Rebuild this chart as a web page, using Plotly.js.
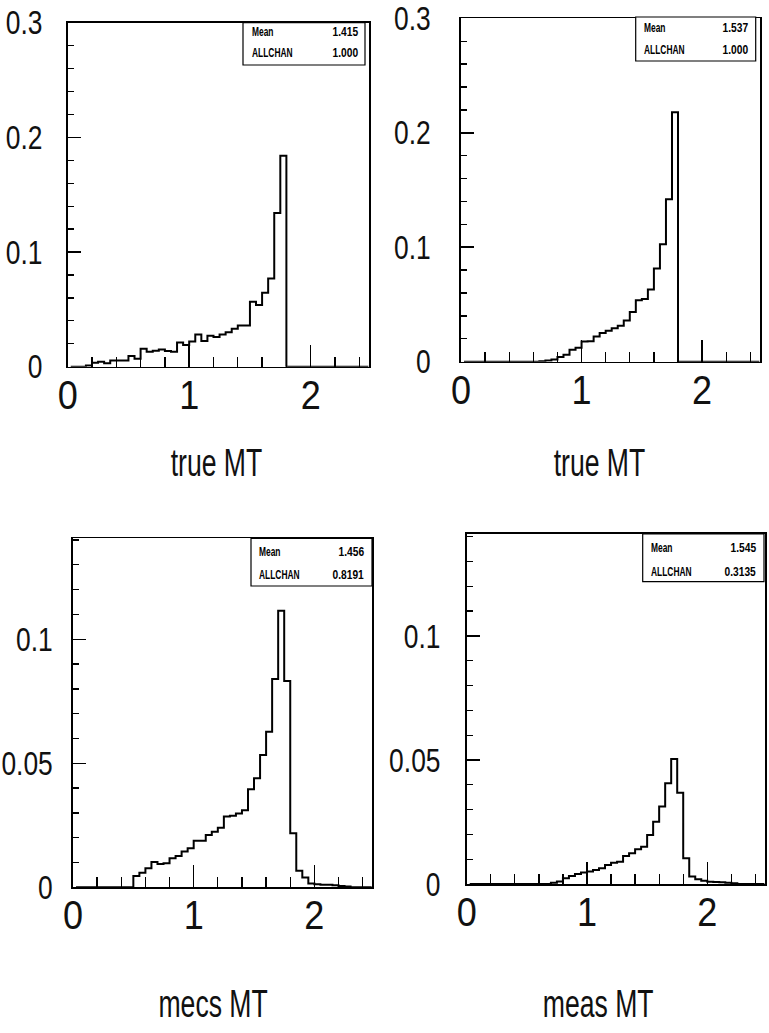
<!DOCTYPE html>
<html><head><meta charset="utf-8">
<script src="https://cdn.plot.ly/plotly-3.0.1.min.js"></script>
<style>html,body{margin:0;padding:0;background:#fff}#chart{width:769px;height:1033px}</style>
</head><body><div id="chart"></div>
<script>
// bin centers (bin width 0.05, 0 .. 2.5)
const binCenters = [0.025,0.075,0.125,0.175,0.225,0.275,0.325,0.375,0.425,0.475,
  0.525,0.575,0.625,0.675,0.725,0.775,0.825,0.875,0.925,0.975,
  1.025,1.075,1.125,1.175,1.225,1.275,1.325,1.375,1.425,1.475,
  1.525,1.575,1.625,1.675,1.725,1.775,1.825,1.875,1.925,1.975,
  2.025,2.075,2.125,2.175,2.225,2.275,2.325,2.375,2.425,2.475];

// top-left: true MT
const trueMT_left = [0,0,0,0.001,0.0035,0.0044,0.003,0.0055,0.0055,0.0055,
  0.0093,0.007,0.0157,0.013,0.014,0.015,0.0137,0.013,0.021,0.019,
  0.022,0.028,0.0224,0.027,0.026,0.028,0.030,0.033,0.036,0.036,
  0.0567,0.0538,0.0645,0.077,0.134,0.184,0,0,0,0,
  0,0,0,0,0,0,0,0,0,0];
// top-right: true MT
const trueMT_right = [0,0,0,0,0,0,0,0,0,0,
  0,0,0,0.0005,0.001,0.002,0.004,0.006,0.0105,0.0122,
  0.0176,0.0178,0.022,0.025,0.027,0.0293,0.0314,0.036,0.0434,0.0536,
  0.0548,0.063,0.0815,0.1026,0.142,0.218,0,0,0,0,
  0,0,0,0,0,0,0,0,0,0];
// bottom-left: meas MT
const measMT_left = [0,0,0,0,0,0,0,0,0,0,
  0.0046,0.0059,0.0077,0.0102,0.0094,0.0097,0.0117,0.0126,0.0144,0.0157,
  0.0188,0.0188,0.0211,0.0224,0.024,0.0285,0.0288,0.0298,0.0311,0.0395,
  0.044,0.0533,0.0627,0.084,0.1115,0.0832,0.0218,0.0067,0.004,0.0015,
  0.0012,0.001,0.001,0.0008,0.0005,0.0003,0,0,0,0];
// bottom-right: meas MT
const measMT_right = [0,0,0,0,0,0,0,0,0,0,
  0,0,0,0,0.0005,0.001,0.0023,0.0032,0.004,0.0046,
  0.005,0.0056,0.0063,0.0077,0.0086,0.009,0.0113,0.0124,0.014,0.015,
  0.0198,0.0251,0.0312,0.0406,0.0504,0.0368,0.0104,0.003,0.0019,0.0013,
  0.0009,0.0008,0.0007,0.0005,0.0003,0,0,0,0,0];

const xTickVals = [0, 1, 2];
const xTickText = ['0', '1', '2'];
const yTickValsTop = [0, 0.1, 0.2, 0.3];
const yTickTextTop = ['0', '0.1', '0.2', '0.3'];
const yTickValsBottom = [0, 0.05, 0.1];
const yTickTextBottom = ['0', '0.05', '0.1'];

const axisTitles = ['true MT','true MT','mecs MT','meas MT'];
const statNames = ['Mean','ALLCHAN'];
const statMean = ['1.415','1.537','1.456','1.545'];
const statAllchan = ['1.000','1.000','0.8191','0.3135'];

const W = 769, H = 1033;
const FONT = 'Liberation Sans, Arial, sans-serif';
const series = [trueMT_left, trueMT_right, measMT_left, measMT_right];

// panel geometry in pixels (frame left/right/top/bottom)
const panels = [
  {L:67.7, R:369, T:22.7, B:366.7, ymax:0.3, tv:yTickValsTop, tt:yTickTextTop, ymin:0.02, ysd:17,
   box:[243,365,22.7,65], rows:[32,53], tx:[250,359.5], title:[216,463]},
  {L:461, R:760, T:18.3, B:361.7, ymax:0.3, tv:yTickValsTop, tt:yTickTextTop, ymin:0.02, ysd:22,
   box:[635.7,755.7,17,61], rows:[28,49.5], tx:[641.7,750], title:[599,463]},
  {L:73, R:372.3, T:538.3, B:887.3, ymax:0.1407, tv:yTickValsBottom, tt:yTickTextBottom, ymin:0.01, ysd:12,
   box:[251,372,538.3,586], rows:[551.5,575], tx:[257,366], title:[213,1004]},
  {L:466.7, R:765, T:534, B:884, ymax:0.1411, tv:yTickValsBottom, tt:yTickTextBottom, ymin:0.01, ysd:18,
   box:[642.7,764,534,581.7], rows:[548.3,571.7], tx:[649.3,758.3], title:[598,1004]}
];

const px = x => x / W;
const py = y => (H - y) / H;

const data = [];
const layout = {
  width: W, height: H,
  margin: {l:0, r:0, t:0, b:0},
  paper_bgcolor: '#fff', plot_bgcolor: '#fff',
  showlegend: false,
  shapes: [], annotations: []
};

panels.forEach((p, i) => {
  const n = i === 0 ? '' : String(i + 1);
  data.push({
    type: 'scatter', mode: 'lines',
    x: binCenters, y: series[i],
    xaxis: 'x' + n, yaxis: 'y' + n,
    line: {shape: 'hvh', color: '#000', width: 2},
    hoverinfo: 'skip'
  });
  layout['xaxis' + n] = {
    domain: [px(p.L), px(p.R)], anchor: 'y' + n,
    range: [0, 2.48], tickmode: 'array', tickvals: xTickVals, ticktext: xTickText,
    showline: true, mirror: true, linecolor: '#000', linewidth: 1.6,
    ticks: 'inside', ticklen: 22, tickwidth: 1.5, tickcolor: '#000',
    minor: {dtick: 0.2, tick0: 0, ticks: 'inside', ticklen: 10, tickwidth: 1.3, tickcolor: '#000', showgrid: false},
    showgrid: false, zeroline: false,
    tickfont: {family: FONT, size: 41, color: '#111'},
    ticklabelstandoff: -9, ticklabeloverflow: 'allow'
  };
  layout['yaxis' + n] = {
    domain: [py(p.B), py(p.T)], anchor: 'x' + n,
    range: [0, p.ymax], tickmode: 'array', tickvals: p.tv, ticktext: p.tt,
    showline: true, mirror: true, linecolor: '#000', linewidth: 1.6,
    ticks: 'inside', ticklen: 13, tickwidth: 1.5, tickcolor: '#000',
    minor: {dtick: p.ymin, tick0: 0, ticks: 'inside', ticklen: 6, tickwidth: 1.3, tickcolor: '#000', showgrid: false},
    showgrid: false, zeroline: false,
    tickfont: {family: FONT, size: 33, color: '#111'},
    ticklabelstandoff: p.ysd, ticklabeloverflow: 'allow'
  };
  // stat box
  layout.shapes.push({
    type: 'rect', xref: 'paper', yref: 'paper',
    x0: px(p.box[0]), x1: px(p.box[1]), y0: py(p.box[3]), y1: py(p.box[2]),
    line: {color: '#000', width: 1.2}, fillcolor: '#fff'
  });
  const sf = {family: FONT, size: 12, color: '#000', weight: 'bold'};
  const vals = [statMean[i], statAllchan[i]];
  statNames.forEach((s, r) => {
    layout.annotations.push({xref:'paper', yref:'paper', x: px(p.tx[0]), y: py(p.rows[r]),
      xanchor:'left', align:'left', yanchor:'middle', text: s, showarrow:false, font: sf,
      name: 'statname'});
    layout.annotations.push({xref:'paper', yref:'paper', x: px(p.tx[1]), y: py(p.rows[r]),
      xanchor:'right', align:'right', yanchor:'middle', text: vals[r], showarrow:false, font: sf,
      name: 'statval'});
  });
  // axis caption
  layout.annotations.push({xref:'paper', yref:'paper', x: px(p.title[0]), y: py(p.title[1]),
    xanchor:'center', align:'center', yanchor:'middle', text: axisTitles[i], showarrow:false,
    font: {family: FONT, size: 38, color: '#111'}, name: 'caption'});
});

// narrow, condensed lettering like the original plotter font;
// keep the given edge (left / center / right) where Plotly placed it
function squeeze(el, f, keep) {
  const L = el.getComputedTextLength();
  if (!(L > 0)) return;
  const b0 = el.getBBox();
  el.setAttribute('textLength', (L * f).toFixed(2));
  el.setAttribute('lengthAdjust', 'spacingAndGlyphs');
  const b1 = el.getBBox();
  let dx = 0;
  if (keep === 'right') dx = (b0.x + b0.width) - (b1.x + b1.width);
  else if (keep === 'left') dx = b0.x - b1.x;
  else dx = (b0.x + b0.width / 2) - (b1.x + b1.width / 2);
  if (Math.abs(dx) > 0.01) {
    el.setAttribute('x', (parseFloat(el.getAttribute('x') || 0) + dx).toFixed(2));
  }
}

Plotly.newPlot('chart', data, layout, {staticPlot: true, displayModeBar: false}).then(gd => {
  gd.querySelectorAll('.xaxislayer-above text').forEach(t => squeeze(t, 0.88, 'center'));
  gd.querySelectorAll('.yaxislayer-above text').forEach(t => squeeze(t, 0.8, 'right'));
  const anns = gd.querySelectorAll('g.annotation text.annotation-text');
  const kinds = layout.annotations.map(a => a.name);
  anns.forEach((t, k) => {
    const kind = kinds[k];
    if (kind === 'caption') squeeze(t, 0.7, 'center');
    else if (kind === 'statname') squeeze(t, 0.7, 'left');
    else if (kind === 'statval') squeeze(t, 0.85, 'right');
  });
});
</script>
</body></html>
